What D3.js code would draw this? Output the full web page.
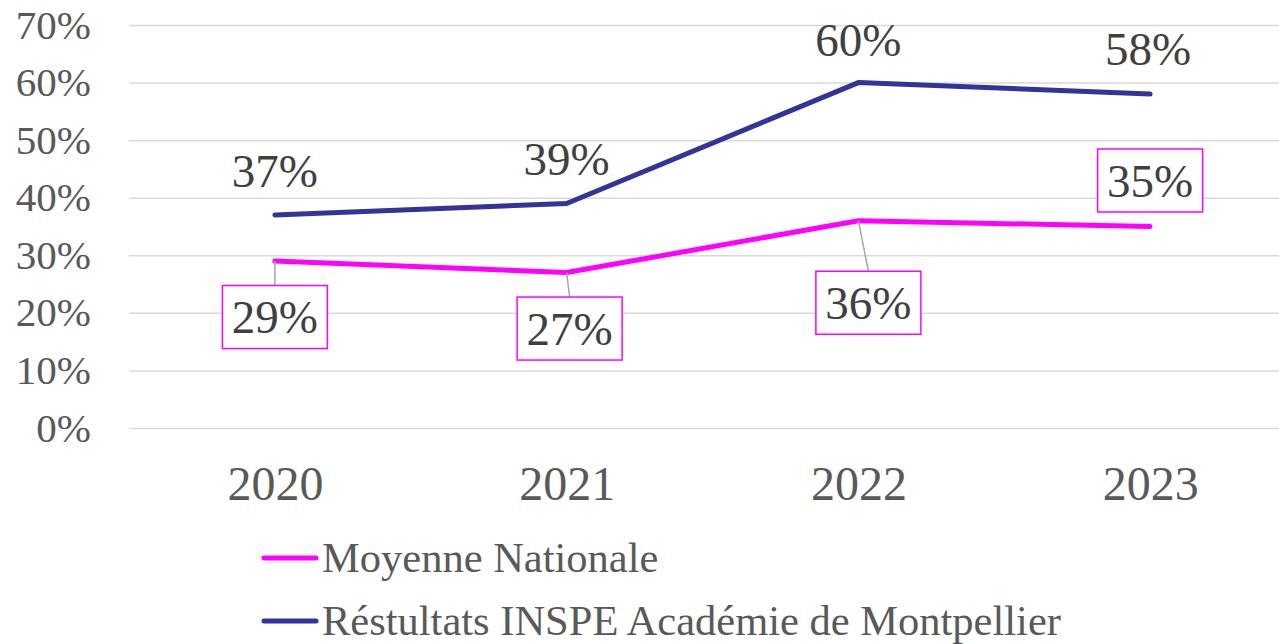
<!DOCTYPE html>
<html>
<head>
<meta charset="utf-8">
<script src="https://cdnjs.cloudflare.com/ajax/libs/d3/7.8.5/d3.min.js"></script>
<style>
  html, body { margin: 0; padding: 0; background: #fff; }
  svg { display: block; }
</style>
</head>
<body>
<svg id="chart"></svg>
<script>
// chart data
var years = ['2020', '2021', '2022', '2023'];
var nationale = [0.29, 0.27, 0.36, 0.35];
var inspe = [0.37, 0.39, 0.60, 0.58];
var yTicks = [0, 0.1, 0.2, 0.3, 0.4, 0.5, 0.6, 0.7];
var seriesNames = ['Moyenne Nationale', 'Réstultats INSPE Académie de Montpellier'];

// label placement (offset from point), as set in the original
var nationaleLabelOffset = [[0, 56], [3, 56], [10, 82], [0, -46]];
var inspeLabelOffset = [[0, -44], [0, -44], [0, -43], [-2, -45]];

var width = 1279, height = 644;
var magenta = '#ff00ff', navy = '#333399';
var serif = '"Liberation Serif", serif';

var svg = d3.select('#chart')
    .attr('width', width)
    .attr('height', height)
    .attr('font-family', serif);

var x = d3.scalePoint()
    .domain(years)
    .range([129, 1296])
    .padding(0.5);

var y = d3.scaleLinear()
    .domain([0, 0.7])
    .range([428, 25]);

var fmt = d3.format('.0%');

// gridlines + y labels
var yAxis = d3.axisLeft(y)
    .tickValues(yTicks)
    .tickFormat(fmt)
    .tickSize(-(1296 - 129))
    .tickPadding(38);

var gy = svg.append('g')
    .attr('transform', 'translate(129,0)')
    .call(yAxis)
    .attr('font-family', serif)
    .attr('font-size', 41);
gy.select('.domain').remove();
gy.selectAll('.tick line').attr('stroke', '#d9d9d9').attr('stroke-width', 1.5);
gy.selectAll('.tick text')
    .attr('fill', '#595959');

// x labels
var xAxis = d3.axisBottom(x).tickSize(0).tickPadding(0);
var gx = svg.append('g')
    .attr('transform', 'translate(0,428)')
    .call(xAxis)
    .attr('font-family', serif)
    .attr('font-size', 48);
gx.select('.domain').remove();
gx.selectAll('.tick text')
    .attr('fill', '#595959')
    .attr('dy', 0)
    .attr('y', 72);

var line = d3.line()
    .x(function (d, i) { return x(years[i]); })
    .y(function (d) { return y(d); });

// series lines
[[nationale, magenta], [inspe, navy]].forEach(function (s) {
  svg.append('path')
    .datum(s[0])
    .attr('d', line)
    .attr('fill', 'none')
    .attr('stroke', s[1])
    .attr('stroke-width', 5)
    .attr('stroke-linecap', 'round')
    .attr('stroke-linejoin', 'round');
});

// boxed labels for Moyenne Nationale
var boxW = 105, boxH = 63;
var nl = svg.append('g').selectAll('g')
    .data(nationale)
    .enter()
    .append('g');

nl.each(function (d, i) {
  var g = d3.select(this);
  var px = x(years[i]), py = y(d);
  var cx = px + nationaleLabelOffset[i][0];
  var cy = py + nationaleLabelOffset[i][1];
  if (nationaleLabelOffset[i][1] > 0 && cy - boxH / 2 - py > 12) {
    g.append('line')
      .attr('x1', px).attr('y1', py)
      .attr('x2', cx).attr('y2', cy - boxH / 2)
      .attr('stroke', '#a6a6a6')
      .attr('stroke-width', 1.5);
  }
  g.append('rect')
    .attr('x', cx - boxW / 2)
    .attr('y', cy - boxH / 2)
    .attr('width', boxW)
    .attr('height', boxH)
    .attr('fill', '#fff')
    .attr('stroke', magenta)
    .attr('stroke-width', 1.5);
  g.append('text')
    .attr('x', cx)
    .attr('y', cy + 16)
    .attr('text-anchor', 'middle')
    .attr('fill', '#404040')
    .attr('font-size', 47)
    .text(fmt(d));
});

// plain labels for INSPE
svg.append('g').selectAll('text')
    .data(inspe)
    .enter()
    .append('text')
    .attr('x', function (d, i) { return x(years[i]) + inspeLabelOffset[i][0]; })
    .attr('y', function (d, i) { return y(d) + inspeLabelOffset[i][1] + 16; })
    .attr('text-anchor', 'middle')
    .attr('fill', '#404040')
    .attr('font-size', 47)
    .text(function (d) { return fmt(d); });

// legend
var legend = svg.append('g').selectAll('g')
    .data(seriesNames)
    .enter()
    .append('g')
    .attr('transform', function (d, i) { return 'translate(0,' + (558 + i * 63) + ')'; });

legend.append('line')
    .attr('x1', 264).attr('x2', 316)
    .attr('y1', 0).attr('y2', 0)
    .attr('stroke', function (d, i) { return i === 0 ? magenta : navy; })
    .attr('stroke-width', 5)
    .attr('stroke-linecap', 'round');

legend.append('text')
    .attr('x', 322)
    .attr('y', 14)
    .attr('fill', '#595959')
    .attr('font-size', 42.5)
    .text(function (d) { return d; });
</script>
</body>
</html>
